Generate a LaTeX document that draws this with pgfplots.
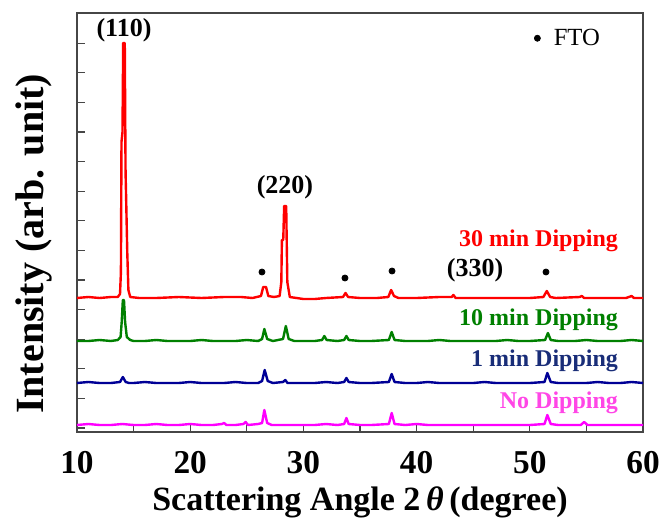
\documentclass[border=0pt]{standalone}
\usepackage{pgfplots}
\pgfplotsset{compat=1.18}
\usepackage{fontspec}
\setmainfont{Liberation Serif}

\definecolor{cRed}{RGB}{255,0,0}
\definecolor{cGreen}{RGB}{0,128,0}
\definecolor{cBlue}{RGB}{0,0,150}
\definecolor{cMag}{RGB}{255,0,255}
\definecolor{tBlue}{RGB}{25,45,120}
\definecolor{tMag}{RGB}{255,70,230}
\definecolor{frame}{RGB}{70,70,70}

\begin{document}
\begin{tikzpicture}
\begin{axis}[
    width=424.5pt, height=314.25pt,
    scale only axis,
    xmin=10, xmax=60,
    ymin=0, ymax=419,
    xtick={10,20,...,60},
    minor xtick={15,25,...,55},
    ytick={4,33.6,...,419},
    yticklabels={},
    xtick pos=bottom, ytick pos=left,
    tick align=inside,
    major tick length=6pt, minor tick length=5pt,
    axis line style={frame, line width=1.2pt},
    tick style={frame, line width=1pt},
    /pgf/number format/assume math mode=true,
    xticklabel style={font=\fontsize{25}{27}\selectfont\bfseries, yshift=-11pt},
    xlabel={Scattering Angle 2\,\textit{θ}\,(degree)},
    ylabel={Intensity (arb. unit)},
    xlabel style={font=\fontsize{25.5}{28}\selectfont\bfseries, yshift=-3pt},
    ylabel style={font=\fontsize{30}{32}\selectfont\bfseries, yshift=8pt, xshift=-16pt},
    legend style={draw=none, fill=none, at={(0.955,0.975)}, anchor=north east,
        font=\fontsize{18.5}{20}\selectfont, nodes={inner xsep=10pt}},
    legend cell align=left,
    every axis plot/.append style={line width=1.8pt, line join=round},
]
% FTO reflections (annotation dots)
\addplot[only marks, mark=*, mark size=2.3pt, black, line width=0.5pt]
  coordinates {(26.34,160)(33.67,154)(37.83,161)(51.43,160)};
\addlegendentry{FTO}

% No dipping
\addplot[cMag, forget plot] coordinates {
(10,7)(11,8)(12,7)(13,7)(14,8)(15,7)(16,7)(17,8)(18,7)(19,7)(20,8)(21,7)(22,7)
(22.8,8)(23,9)(23.2,7)(24,7)(24.7,8)(24.9,10)(25.1,7)(26,8)(26.35,9)(26.55,22)(26.8,9)
(27.2,7)(28,7)(29,7)(30,7)(31,7)(32,8)(33,7)(33.6,8)(33.8,14)(34.0,8)(35,7)(36,7)
(37.55,8)(37.8,19)(38.05,8)(39,7)(40,8)(41,7)(42,7)(43,7)(44,7)(45,7)(46,7)(47,7)
(48,7)(49,7)(50,7)(51.3,8)(51.55,17)(51.85,8)(52.5,7)(54.5,7)(54.8,10)(55.1,7)
(56,7)(57,7)(58,7)(59,7)(60,7)};
% 1 min dipping
\addplot[cBlue, forget plot] coordinates {
(10,49)(11,50)(12,49)(13,49)(13.8,50)(14.05,55)(14.3,50)(14.6,49)(15,49)(16,50)
(17,49)(18,49)(19,49)(20,50)(21,49)(22,49)(23,49)(24,50)(25,49)(26,49)(26.35,51)
(26.58,62)(26.85,51)(27.3,49)(28.2,50)(28.4,52)(28.6,49)(29,49)(30,49)(31,49)(32,50)
(33,49)(33.6,50)(33.8,54)(34.0,50)(35,49)(36,49)(37.55,50)(37.8,58)(38.05,50)(39,49)
(40,49)(41,50)(42,49)(43,49)(44,49)(45,49)(46,50)(47,49)(48,49)(49,49)(50,49)
(51.3,50)(51.55,59)(51.85,50)(52.5,49)(54,49)(55,49)(56,50)(57,49)(58,49)(59,50)(60,49)};
% 10 min dipping
\addplot[cGreen, forget plot] coordinates {
(10,91)(11,91)(12,92)(13,91)(13.6,92)(13.85,95)(13.95,110)(14.05,132)(14.15,132)
(14.25,110)(14.4,95)(14.7,92)(15,91)(16,91)(17,92)(18,91)(19,91)(20,91)(21,92)
(22,91)(23,91)(24,91)(25,92)(26,91)(26.35,93)(26.55,103)(26.8,93)(27.3,91)(28.2,93)
(28.45,106)(28.7,93)(29.2,91)(30,91)(31,91)(31.65,92)(31.85,96)(32.05,92)(33,91)
(33.6,92)(33.8,96)(34.0,92)(35,91)(36,91)(37.55,92)(37.8,100)(38.05,92)(39,91)
(40,91)(41,91)(42,92)(43,91)(44,91)(45,91)(46,91)(47,91)(48,92)(49,91)(50,91)
(51.35,92)(51.6,99)(51.85,92)(52.5,91)(54,91)(55,92)(56,91)(57,91)(58,91)(59,92)(60,91)};
% 30 min dipping
\addplot[cRed, forget plot] coordinates {
(10,134)(11,135)(12,134)(13,135)(13.6,135)(13.8,138)(13.88,160)(13.93,290)(14.02,300)
(14.08,389)(14.22,389)(14.29,260)(14.35,229)(14.44,180)(14.54,142)(14.7,135)(15.5,134)
(17,134)(19,135)(21,134)(23,135)(24.5,135)(25.5,134)(26.25,136)(26.45,145)(26.7,145)
(26.9,136)(27.4,135)(27.9,136)(28.05,150)(28.1,192)(28.22,192)(28.3,226)(28.48,226)
(28.58,150)(28.8,135)(30,133)(31,133)(32,134)(33.5,135)(33.72,139)(33.95,135)(35,134)
(36.5,134)(37.5,135)(37.75,142)(38.0,136)(38.4,134)(40,134)(42,135)(43.1,135)
(43.25,137)(43.45,134)(45,134)(46.5,134)(48,134)(50,134)(51.2,135)(51.5,141)
(51.8,135)(52.3,134)(54.4,135)(54.6,136)(54.8,134)(56,134)(58.5,134)(59,136)
(59.2,134)(60,134)};

\node[font=\fontsize{19.5}{21}\selectfont\bfseries] at (axis cs:14.15,402) {(110)};
\node[font=\fontsize{19.5}{21}\selectfont\bfseries] at (axis cs:28.37,245) {(220)};
\node[font=\fontsize{19.5}{21}\selectfont\bfseries] at (axis cs:45.16,162) {(330)};

\node[anchor=east, text=cRed, font=\fontsize{18}{20}\selectfont\bfseries] at (axis cs:58.2,191) {30 min Dipping};
\node[anchor=east, text=cGreen, font=\fontsize{18}{20}\selectfont\bfseries] at (axis cs:58.2,112) {10 min Dipping};
\node[anchor=east, text=tBlue, font=\fontsize{18}{20}\selectfont\bfseries] at (axis cs:58.2,71) {1 min Dipping};
\node[anchor=east, text=tMag, font=\fontsize{18}{20}\selectfont\bfseries] at (axis cs:58.2,29) {No Dipping};
\end{axis}
\pgfresetboundingbox
\path (current axis.south west) ++(-57.75pt,-70.5pt) rectangle ++(495.75pt,394.5pt);
\end{tikzpicture}
\end{document}
